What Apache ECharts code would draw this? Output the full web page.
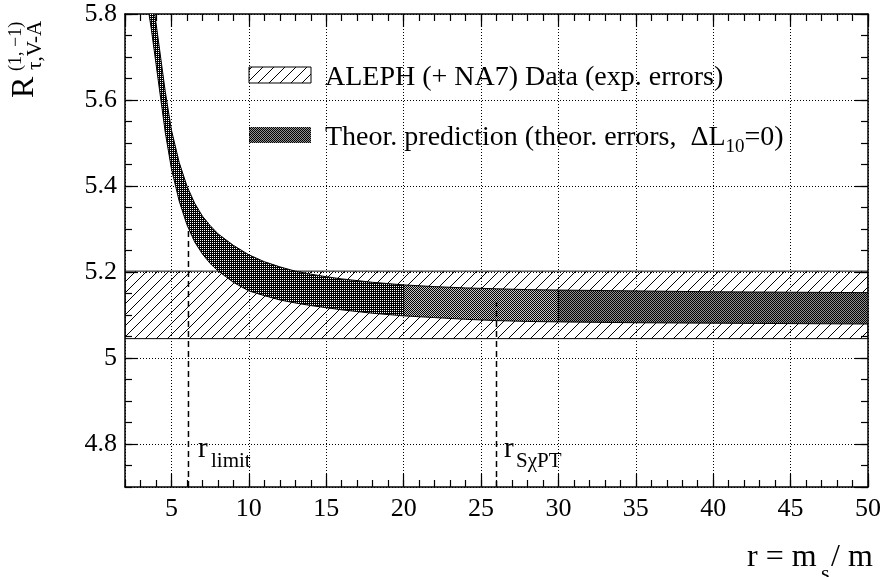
<!DOCTYPE html>
<html>
<head>
<meta charset="utf-8">
<script src="https://cdn.jsdelivr.net/npm/echarts@6/dist/echarts.min.js"></script>
<style>
  html, body { margin: 0; padding: 0; background: #fff; }
  #main { width: 884px; height: 577px; }
</style>
</head>
<body>
<div id="main"></div>
<script>
const xVals = [3.4, 3.55, 3.7, 4.0, 4.3, 4.6, 5.0, 5.5, 6.0, 6.5, 7.0, 7.5, 8, 9, 10, 11, 12, 13, 14, 15, 16, 18, 20, 22, 24, 26, 28, 30, 35, 40, 45, 50];
// theory prediction, upper edge
const upperVals = [5.94, 5.90, 5.86, 5.78, 5.70, 5.62, 5.53, 5.455, 5.40, 5.36, 5.33, 5.308, 5.289, 5.262, 5.240, 5.224, 5.212, 5.202, 5.195, 5.189, 5.184, 5.176, 5.170, 5.166, 5.163, 5.161, 5.159, 5.158, 5.156, 5.154, 5.153, 5.152];
// theory prediction, lower edge
const lowerVals = [5.85, 5.80, 5.765, 5.685, 5.605, 5.525, 5.44, 5.365, 5.31, 5.27, 5.242, 5.22, 5.203, 5.176, 5.156, 5.145, 5.135, 5.128, 5.122, 5.117, 5.112, 5.104, 5.098, 5.094, 5.090, 5.087, 5.085, 5.084, 5.082, 5.081, 5.080, 5.079];
// the band is drawn in three pieces
const segments = [[3.4, 20], [20, 30], [30, 50]];
// ALEPH data band (low, high)
const alephBand = [5.045, 5.202];
const xRange = [2, 50];
const yRange = [4.7, 5.8];
// vertical markers [x, top]
const rLimit = [6.1, 5.30];
const rSchpt = [26, 5.13];

const FONT = '"Liberation Serif", "Times New Roman", serif';

/**
 * 画一个平铺用的小图块
 */
function makeTile(w, h, bg, draw) {
    const c = document.createElement('canvas');
    c.width = w;
    c.height = h;
    const ctx = c.getContext('2d');
    if (bg) {
        ctx.fillStyle = bg;
        ctx.fillRect(0, 0, w, h);
    }
    draw(ctx);
    return {image: c, repeat: 'repeat'};
}

function drawHatch(ctx) {
    ctx.strokeStyle = '#000';
    ctx.lineWidth = 1;
    ctx.beginPath();
    ctx.moveTo(-2, 13); ctx.lineTo(13, -2);
    ctx.stroke();
}

// 斜线填充, 背景透明
const hatch = makeTile(11, 11, null, drawHatch);
const hatchBox = makeTile(11, 11, '#fff', drawHatch);
const darkDots = makeTile(4, 4, '#000', function (ctx) {
    ctx.fillStyle = '#fff';
    ctx.fillRect(0, 0, 1, 1);
    ctx.fillRect(2, 2, 1, 1);
    ctx.fillRect(2, 0, 1, 1);
    ctx.fillRect(0, 2, 1, 1);
});
const checker = makeTile(2, 2, '#c4c4c4', function (ctx) {
    ctx.fillStyle = '#000';
    ctx.fillRect(0, 0, 1, 1);
    ctx.fillRect(1, 1, 1, 1);
});
const checkerDark = makeTile(2, 2, '#909090', function (ctx) {
    ctx.fillStyle = '#000';
    ctx.fillRect(0, 0, 1, 1);
    ctx.fillRect(1, 1, 1, 1);
});
const segFills = [darkDots, checker, checkerDark];

function bandRender(x0, x1, fill) {
    return function (params, api) {
        const top = [], bottom = [];
        for (let i = 0; i < xVals.length; i++) {
            if (xVals[i] < x0 || xVals[i] > x1) continue;
            top.push(api.coord([xVals[i], upperVals[i]]));
            bottom.push(api.coord([xVals[i], lowerVals[i]]));
        }
        return {
            type: 'polygon',
            shape: {points: top.concat(bottom.reverse())},
            style: {fill: fill, stroke: '#000', lineWidth: 1}
        };
    };
}

function alephRender(params, api) {
    const p = [
        api.coord([xRange[0], alephBand[1]]),
        api.coord([xRange[1], alephBand[1]]),
        api.coord([xRange[1], alephBand[0]]),
        api.coord([xRange[0], alephBand[0]])
    ];
    return {
        type: 'polygon',
        shape: {points: p},
        style: {fill: hatch, stroke: '#000', lineWidth: 1}
    };
}

// major: 刻度标签和网格线; minor: 只画短刻度
function xAxis(pos, major) {
    return {
        type: 'value', position: pos, min: xRange[0], max: xRange[1],
        splitNumber: major ? 10 : undefined,
        interval: major ? undefined : 1,
        axisLine: {show: major, onZero: false, lineStyle: {color: '#000', width: 1.5}},
        axisTick: {show: true, inside: true, length: major ? 13 : 7, lineStyle: {color: '#000', width: 1.2}},
        axisLabel: {
            show: major && pos === 'bottom', showMinLabel: false, margin: 9,
            color: '#000', fontSize: 26, fontFamily: FONT
        },
        splitLine: {show: major && pos === 'bottom', lineStyle: {color: '#000', width: 1, type: [1, 2]}}
    };
}

function yAxis(pos, major) {
    return {
        type: 'value', position: pos, min: yRange[0], max: yRange[1],
        splitNumber: major ? 5 : undefined,
        interval: major ? undefined : 0.05,
        axisLine: {show: major, onZero: false, lineStyle: {color: '#000', width: 1.5}},
        axisTick: {show: true, inside: true, length: major ? 13 : 7, lineStyle: {color: '#000', width: 1.2}},
        axisLabel: {
            show: major && pos === 'left', showMinLabel: false, margin: 8,
            color: '#000', fontSize: 26, fontFamily: FONT
        },
        splitLine: {show: major && pos === 'left', lineStyle: {color: '#000', width: 1, type: [1, 2]}}
    };
}

const series = [{
    type: 'custom', name: 'aleph', clip: true, z: 2,
    renderItem: alephRender, data: [[xRange[0], alephBand[0]]]
}];
for (let s = 0; s < segments.length; s++) {
    series.push({
        type: 'custom', name: 'theory' + s, clip: true, z: 3,
        renderItem: bandRender(segments[s][0], segments[s][1], segFills[s]),
        data: [[segments[s][0], upperVals[0]]]
    });
}
[rLimit, rSchpt].forEach(function (m) {
    series.push({
        type: 'line', z: 4, symbol: 'none', silent: true,
        lineStyle: {color: '#000', width: 1.5, type: [6, 4]},
        data: [[m[0], yRange[0]], [m[0], m[1]]]
    });
});

function txt(text, x, y, size, align) {
    return {
        type: 'text', x: x, y: y,
        style: {text: text, fontSize: size, fontFamily: FONT, fill: '#000', align: align || 'left', verticalAlign: 'middle'}
    };
}

const graphic = [
    // legend
    {type: 'rect', shape: {x: 249, y: 67, width: 62, height: 16}, style: {fill: hatchBox, stroke: '#000', lineWidth: 1}},
    txt('ALEPH (+ NA7) Data (exp. errors)', 325, 78, 28),
    {type: 'rect', shape: {x: 249, y: 127, width: 62, height: 16}, style: {fill: checkerDark}},
    {
        type: 'text', x: 325, y: 138,
        style: {
            text: '{m|Theor. prediction (theor. errors,  ΔL}{s|10}{m|=0)}',
            verticalAlign: 'middle', fill: '#000',
            rich: {
                m: {fontSize: 28, fontFamily: FONT},
                s: {fontSize: 19, fontFamily: FONT, padding: [18, 0, 0, 0]}
            }
        }
    },
    // markers
    txt('r', 198, 449, 29), txt('limit', 211, 461, 21),
    txt('r', 504, 449, 29), txt('SχPT', 516, 461, 21),
    // x title
    txt('r = m', 747, 558, 32), txt('s', 821, 574, 22), txt('/ m', 831, 558, 32),
    // y title
    {
        type: 'group', x: 35, y: 98, rotation: Math.PI / 2,
        children: [
            txt('R', 0, -10, 32),
            txt('(1, −1)', 27, -19, 18),
            txt('τ,V-A', 28, 0, 21)
        ]
    }
];

const chart = echarts.init(document.getElementById('main'));
chart.setOption({
    animation: false,
    backgroundColor: '#fff',
    grid: {left: 125, right: 16, top: 14, bottom: 90, containLabel: false},
    xAxis: [xAxis('bottom', true), xAxis('bottom', false), xAxis('top', true), xAxis('top', false)],
    yAxis: [yAxis('left', true), yAxis('left', false), yAxis('right', true), yAxis('right', false)],
    series: series,
    graphic: graphic
});
</script>
</body>
</html>
